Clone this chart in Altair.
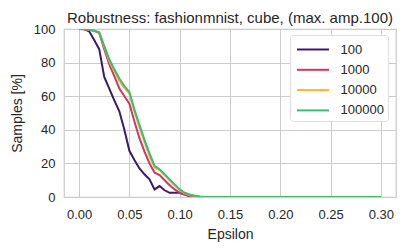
import altair as alt
import pandas as pd

eps = [round(i * 0.005, 3) for i in range(61)]

s100 = [100, 99.8, 98.6, 93.5, 88, 71.5, 64.5, 57.5, 51, 40, 27.5, 22, 17, 13.5, 10.5, 4.5,
        6.5, 4, 2.5, 2.5, 2.5, 1.5, 0.5] + [0] * 38
s1000 = [100, 100, 99.5, 99, 97.5, 88, 79, 72, 64.5, 60, 55.5, 45, 35, 27, 20, 14.5,
         13, 10, 7, 4.5, 2.5, 1.5, 0.5] + [0] * 38
s10000 = [100, 100, 99.5, 99, 98, 89.5, 81, 75, 69, 65, 61.5, 51, 41.5, 33, 24.5, 17.5,
          16, 13, 10, 7, 4, 2.2, 1.2, 0.6, 0.2] + [0] * 36
s100000 = [100, 100, 99.5, 99, 98, 90, 82, 76, 70.5, 66, 62.5, 52, 43, 34, 26, 18.5,
           16.5, 13.5, 10.5, 7.5, 4.5, 2.5, 1.5, 0.8, 0.3] + [0] * 36

series = ["100", "1000", "10000", "100000"]
colors = ["#3b1a6e", "#cc3a5e", "#fbb62f", "#3dba74"]

rows = []
for name, vals in zip(series, [s100, s1000, s10000, s100000]):
    for e, v in zip(eps, vals):
        rows.append({"eps": e, "val": v, "series": name})
df = pd.DataFrame(rows)

FONT = "Liberation Sans"

chart = alt.Chart(df).mark_line(strokeWidth=2, clip=True).encode(
    x=alt.X("eps:Q", title="Epsilon",
            scale=alt.Scale(domain=[-0.015, 0.315], nice=False, zero=False),
            axis=alt.Axis(values=[0, 0.05, 0.1, 0.15, 0.2, 0.25, 0.3], format=".2f",
                          labelPadding=11, titlePadding=6)),
    y=alt.Y("val:Q", title="Samples [%]",
            scale=alt.Scale(domain=[0, 100], nice=False),
            axis=alt.Axis(values=[0, 20, 40, 60, 80, 100], labelPadding=9, titlePadding=9)),
    color=alt.Color("series:N", sort=series,
                    scale=alt.Scale(domain=series, range=colors),
                    legend=alt.Legend(title=None, orient="none", legendX=226, legendY=6,
                                      symbolType="M-0.75,0H2.45", symbolSize=400,
                                      symbolStrokeWidth=2, labelFontSize=13,
                                      labelFont=FONT, labelColor="#262626",
                                      labelOffset=25,
                                      fillColor="white", strokeColor="#dddddd",
                                      padding=3.5, rowPadding=2.3, cornerRadius=3)),
    order=alt.Order("series_order:Q"),
).transform_calculate(
    series_order="indexof(['100','1000','10000','100000'], datum.series)"
).properties(
    width=332, height=168,
    title=alt.TitleParams("Robustness: fashionmnist, cube, (max. amp.100)",
                          font=FONT, fontSize=15, fontWeight="normal",
                          color="#262626", offset=0, dy=3),
    padding={"left": 56, "top": 21, "right": 4, "bottom": 47},
    autosize=alt.AutoSizeParams(type="none"),
).configure_view(
    stroke="#cccccc", strokeWidth=1.25
).configure_axis(
    grid=True, gridColor="#cccccc", gridWidth=1, domain=False, ticks=False,
    labelFont=FONT, labelFontSize=13, labelColor="#262626",
    titleFont=FONT, titleFontSize=14, titleFontWeight="normal", titleColor="#262626",
)

chart.save("out.html", embed_options={"renderer": "svg", "actions": False})
